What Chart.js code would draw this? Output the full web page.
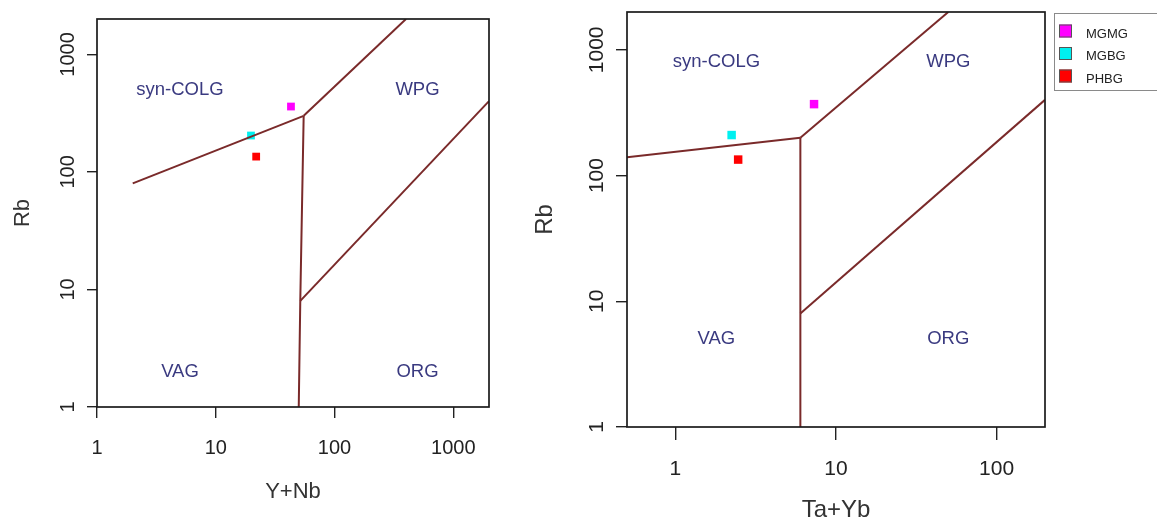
<!DOCTYPE html>
<html>
<head>
<meta charset="utf-8">
<script src="https://cdn.jsdelivr.net/npm/chart.js@4.4.1/dist/chart.umd.min.js"></script>
<style>
  body { margin: 0; background: #fff; width: 1157px; height: 526px; overflow: hidden; position: relative; }
  canvas { position: absolute; top: 0; }
  #left { left: 0; }
  #right { left: 520px; }
</style>
</head>
<body>
<canvas id="left" width="500" height="526" style="width:500px;height:526px"></canvas>
<canvas id="right" width="637" height="526" style="width:637px;height:526px"></canvas>
<script>
// samples
var seriesNames = ['MGMG', 'MGBG', 'PHBG'];
var seriesColors = ['#ff00ff', '#00f0f0', '#ff0000'];

// Rb vs Y+Nb
var ynbX = [43, 19.8, 21.9];
var ynbRb = [360, 204, 135];
// Rb vs Ta+Yb
var tybX = [7.3, 2.24, 2.46];
var tybRb = [370, 210, 134];

var ynbTicksX = [1, 10, 100, 1000];
var tybTicksX = [1, 10, 100];
var rbTicks = [1, 10, 100, 1000];

// field boundaries (Pearce et al. 1984), [x, y] pairs
var ynbLines = [
  [[2, 80], [55, 300]],
  [[55, 300], [51.5, 8], [50, 1]],
  [[51.5, 8], [2000, 400]],
  [[55, 300], [400, 2000]]
];
var tybLines = [
  [[0.5, 140], [6, 200]],
  [[6, 200], [6, 1]],
  [[6, 8], [200, 400]],
  [[6, 200], [50, 2000]]
];

var fieldNames = ['syn-COLG', 'WPG', 'VAG', 'ORG'];
var ynbFieldPos = [[5, 500], [500, 500], [5, 2], [500, 2]];
var tybFieldPos = [[1.8, 800], [50, 800], [1.8, 5], [50, 5]];

var FONT = '"Liberation Sans", Arial, sans-serif';
var lineColor = '#7a2a2a';

// box round the plot area
var boxPlugin = {
  id: 'box',
  afterDraw: function (chart) {
    var a = chart.chartArea, ctx = chart.ctx;
    ctx.save();
    ctx.strokeStyle = '#1a1a1a';
    ctx.lineWidth = 1.7;
    ctx.strokeRect(a.left, a.top, a.right - a.left, a.bottom - a.top);
    ctx.restore();
  }
};

// field names
var fieldPlugin = {
  id: 'fields',
  afterDatasetsDraw: function (chart, args, opts) {
    var ctx = chart.ctx, sx = chart.scales.x, sy = chart.scales.y;
    ctx.save();
    ctx.font = '18.5px ' + FONT;
    ctx.fillStyle = '#3a3a80';
    ctx.textAlign = 'center';
    ctx.textBaseline = 'middle';
    fieldNames.forEach(function (n, i) {
      var p = opts.pos[i];
      ctx.fillText(n, sx.getPixelForValue(p[0]), sy.getPixelForValue(p[1]));
    });
    ctx.restore();
  }
};

// boxed legend like the R one
var legendPlugin = {
  id: 'boxLegend',
  afterDraw: function (chart, args, opts) {
    if (!opts.show) return;
    var ctx = chart.ctx;
    ctx.save();
    ctx.strokeStyle = '#8a8a8a';
    ctx.lineWidth = 1;
    ctx.strokeRect(534.5, 13.5, 120, 77);
    ctx.font = '13px ' + FONT;
    ctx.textBaseline = 'middle';
    ctx.textAlign = 'left';
    var sets = chart.data.datasets.filter(function (d) { return d.label; });
    sets.forEach(function (d, i) {
      var cy = 31 + i * 22.5;
      ctx.fillStyle = d.backgroundColor;
      ctx.fillRect(539, cy - 6.5, 13, 13);
      ctx.strokeStyle = '#555';
      ctx.strokeRect(539.5, cy - 6, 12, 12);
      ctx.fillStyle = '#222';
      ctx.fillText(d.label, 566, cy + 3);
    });
    ctx.restore();
  }
};

function makeChart(id, c) {
  var datasets = [];
  c.lines.forEach(function (seg) {
    datasets.push({
      type: 'line',
      data: seg.map(function (p) { return { x: p[0], y: p[1] }; }),
      borderColor: lineColor,
      borderWidth: 2,
      pointRadius: 0,
      fill: false,
      tension: 0
    });
  });
  seriesNames.forEach(function (name, i) {
    datasets.push({
      label: name,
      data: [{ x: c.x[i], y: c.y[i] }],
      backgroundColor: seriesColors[i],
      borderColor: seriesColors[i],
      borderWidth: 0,
      pointStyle: 'rect',
      pointRadius: c.pr
    });
  });

  return new Chart(document.getElementById(id), {
    type: 'scatter',
    data: { datasets: datasets },
    plugins: [boxPlugin, fieldPlugin, legendPlugin],
    options: {
      responsive: false,
      animation: false,
      layout: { padding: { top: c.top, right: c.right, left: 0, bottom: 0 } },
      plugins: {
        legend: { display: false },
        tooltip: { enabled: false },
        fields: { pos: c.fieldPos },
        boxLegend: { show: c.legend }
      },
      scales: {
        x: {
          type: 'logarithmic',
          min: c.xmin, max: c.xmax,
          afterBuildTicks: function (s) { s.ticks = c.xticks.map(function (v) { return { value: v }; }); },
          afterFit: function (s) { s.height = c.xh; },
          ticks: {
            autoSkip: false, maxRotation: 0,
            color: '#222',
            padding: c.xpad,
            font: { family: FONT, size: c.tickSize },
            callback: function (v) { return String(v); }
          },
          grid: { drawOnChartArea: false, tickLength: c.xtl, color: '#222', lineWidth: 1.4 },
          border: { display: false },
          title: {
            display: true, text: c.xtitle, color: '#333',
            font: { family: FONT, size: c.titleSize },
            padding: { top: 0, bottom: c.xtitlePad }
          }
        },
        y: {
          type: 'logarithmic',
          min: 1, max: 2000,
          afterBuildTicks: function (s) { s.ticks = rbTicks.map(function (v) { return { value: v }; }); },
          afterFit: function (s) { s.width = c.yw; },
          ticks: {
            autoSkip: false, minRotation: 90, maxRotation: 90,
            crossAlign: 'center',
            color: '#222',
            padding: c.ypad,
            font: { family: FONT, size: c.tickSize },
            callback: function (v) { return String(v); }
          },
          grid: { drawOnChartArea: false, tickLength: c.ytl, color: '#222', lineWidth: 1.4 },
          border: { display: false },
          title: {
            display: true, text: 'Rb', color: '#333',
            font: { family: FONT, size: c.titleSize },
            padding: { top: c.ytitlePad, bottom: 0 }
          }
        }
      }
    }
  });
}

makeChart('left', {
  lines: ynbLines, x: ynbX, y: ynbRb, fieldPos: ynbFieldPos,
  xticks: ynbTicksX, xmin: 1, xmax: 2000, xtitle: 'Y+Nb',
  top: 19, right: 11, yw: 97, xh: 119,
  tickSize: 20, titleSize: 22, xtl: 11, ytl: 10,
  xpad: 18, ypad: -4, xtitlePad: 21, ytitlePad: 10,
  pr: 5.5, legend: false
});

makeChart('right', {
  lines: tybLines, x: tybX, y: tybRb, fieldPos: tybFieldPos,
  xticks: tybTicksX, xmin: 0.5, xmax: 200, xtitle: 'Ta+Yb',
  top: 12, right: 112, yw: 107, xh: 99,
  tickSize: 21, titleSize: 24, xtl: 13, ytl: 11,
  xpad: 17, ypad: -5, xtitlePad: 1, ytitlePad: 11,
  pr: 6, legend: true
});
</script>
</body>
</html>
